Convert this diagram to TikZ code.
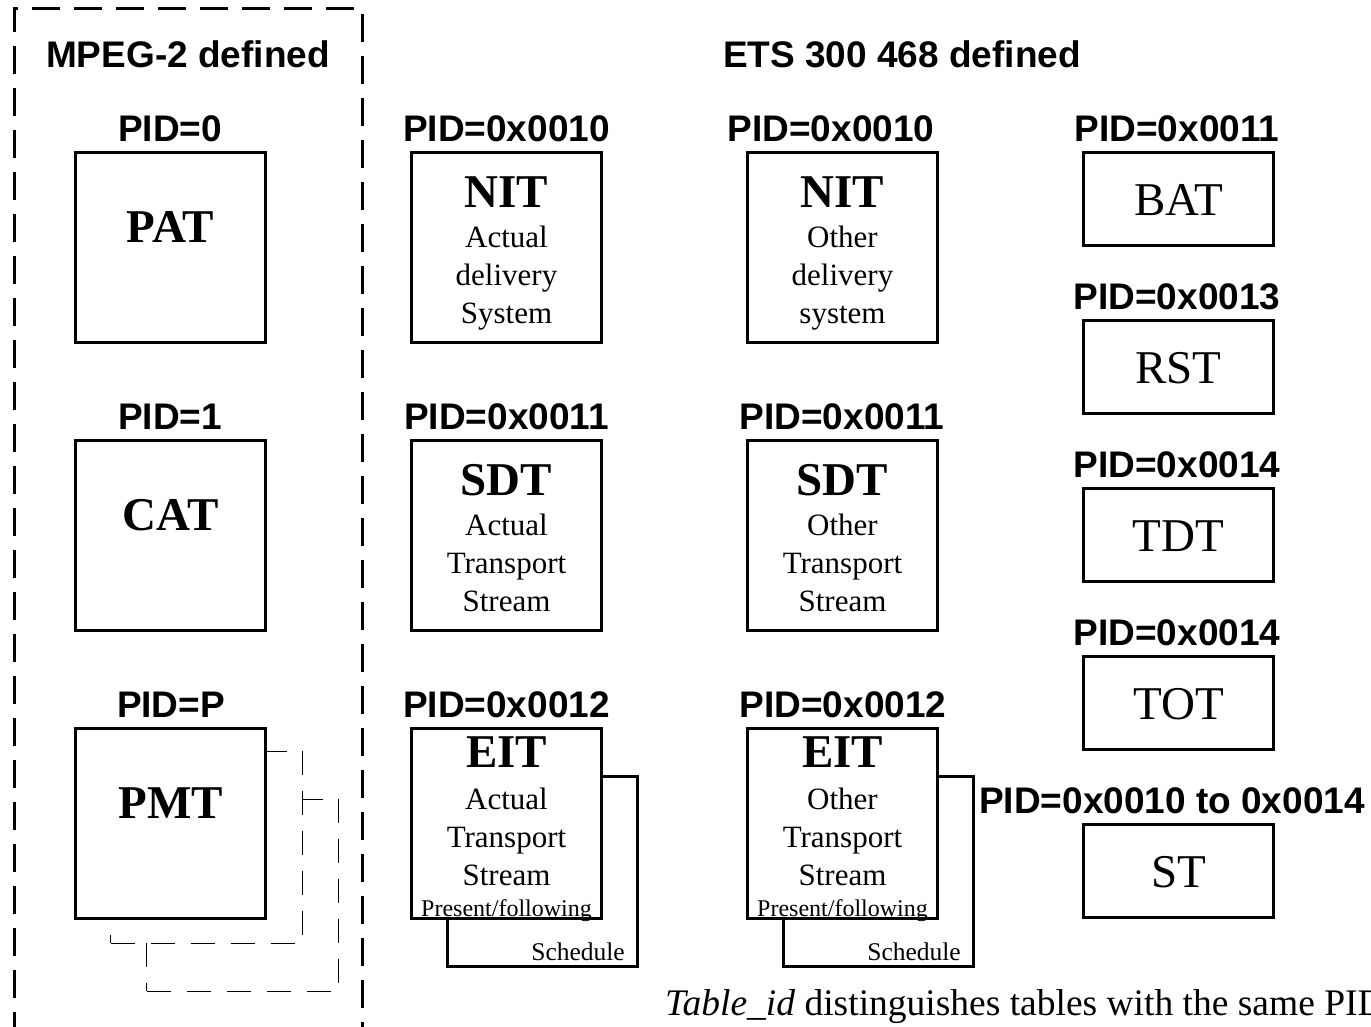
\documentclass[tikz,border=0pt]{standalone}
\usepackage{fontspec}
\setmainfont{Liberation Serif}
\setsansfont{Liberation Sans}
\begin{document}
\begin{tikzpicture}[x=1pt,y=-1pt,
  tbox/.style={draw,line width=3pt,fill=white,inner sep=0pt,minimum width=190pt,minimum height=190pt},
  sbox/.style={draw,line width=3pt,fill=white,inner sep=0pt,minimum width=190pt,minimum height=93pt},
  ghost/.style={draw,line width=1pt,dash pattern=on 24pt off 16pt,fill=white,inner sep=0pt,minimum width=192pt,minimum height=192pt},
  pid/.style={anchor=base,inner sep=0pt,font=\sffamily\bfseries\fontsize{37}{40}\selectfont},
  big/.style={anchor=base,inner sep=0pt,font=\bfseries\fontsize{47}{50}\selectfont},
  bigr/.style={anchor=base,inner sep=0pt,font=\fontsize{47}{50}\selectfont},
  mid/.style={anchor=base,inner sep=0pt,font=\fontsize{31}{34}\selectfont},
  small/.style={anchor=base,inner sep=0pt,font=\fontsize{24}{26}\selectfont},
  sched/.style={anchor=base east,inner sep=0pt,font=\fontsize{25.5}{27}\selectfont},
  outer/.style={line width=3pt,dash pattern=on 28pt off 14pt}]
\useasboundingbox (0,0) rectangle (1371,1026);
% outer dashed frame
\coordinate (fa) at (14,1040);
\coordinate (fb) at (14,8);
\coordinate (fc) at (362,8);
\coordinate (fd) at (362,1040);
\draw[outer] (fa) -- (fb) -- (fc) -- (fd);
% headings
\node[pid] (h1) at (188,67) {MPEG-2 defined};
\node[pid] (h2) at (902,67) {ETS 300 468 defined};
% MPEG column
\node[pid] (l1) at (170,141) {PID=0};
\node[tbox] (pat) at (170.5,247) {};
\node[big] (patt) at (170.5,242) {PAT};
\node[pid] (l2) at (170,429) {PID=1};
\node[tbox] (cat) at (170.5,535) {};
\node[big] (catt) at (170.5,530) {CAT};
\node[pid] (l3) at (171,717) {PID=P};
\node[ghost] (pmt2) at (242.5,895) {};
\node[ghost] (pmt1) at (206.5,847) {};
\node[tbox] (pmt) at (170.5,823) {};
\node[big] (pmtt) at (170.5,818) {PMT};
% Actual column
\node[pid] (l4) at (506.5,141) {PID=0x0010};
\node[tbox] (nita) at (506.5,247) {};
\node[big] (nitat) at (506.5,207) {NIT};
\node[mid] (nita1) at (506.5,247) {Actual};
\node[mid] (nita2) at (506.5,285) {delivery};
\node[mid] (nita3) at (506.5,323) {System};
\node[pid] (l5) at (506.5,429) {PID=0x0011};
\node[tbox] (sdta) at (506.5,535) {};
\node[big] (sdtat) at (506.5,495) {SDT};
\node[mid] (sdta1) at (506.5,535) {Actual};
\node[mid] (sdta2) at (506.5,573) {Transport};
\node[mid] (sdta3) at (506.5,611) {Stream};
\node[pid] (l6) at (506.5,717) {PID=0x0012};
\node[tbox] (eitab) at (542,871) {};
\node[sched] (eitas) at (625,960) {Schedule};
\node[tbox] (eita) at (506.5,823) {};
\node[big] (eitat) at (506.5,767) {EIT};
\node[mid] (eita1) at (506.5,809) {Actual};
\node[mid] (eita2) at (506.5,847) {Transport};
\node[mid] (eita3) at (506.5,885) {Stream};
\node[small] (eita4) at (506.5,916) {Present/following};
% Other column
\node[pid] (l7) at (831,141) {PID=0x0010};
\node[tbox] (nito) at (842.5,247) {};
\node[big] (nitot) at (842.5,207) {NIT};
\node[mid] (nito1) at (842.5,247) {Other};
\node[mid] (nito2) at (842.5,285) {delivery};
\node[mid] (nito3) at (842.5,323) {system};
\node[pid] (l8) at (842,429) {PID=0x0011};
\node[tbox] (sdto) at (842.5,535) {};
\node[big] (sdtot) at (842.5,495) {SDT};
\node[mid] (sdto1) at (842.5,535) {Other};
\node[mid] (sdto2) at (842.5,573) {Transport};
\node[mid] (sdto3) at (842.5,611) {Stream};
\node[pid] (l9) at (843,717) {PID=0x0012};
\node[tbox] (eitob) at (878.5,871) {};
\node[sched] (eitos) at (961,960) {Schedule};
\node[tbox] (eito) at (842.5,823) {};
\node[big] (eitot) at (842.5,767) {EIT};
\node[mid] (eito1) at (842.5,809) {Other};
\node[mid] (eito2) at (842.5,847) {Transport};
\node[mid] (eito3) at (842.5,885) {Stream};
\node[small] (eito4) at (842.5,916) {Present/following};
% Right column
\node[pid] (r1) at (1177,141) {PID=0x0011};
\node[sbox] (bat) at (1178.5,199) {};
\node[bigr] (batt) at (1178.5,215) {BAT};
\node[pid] (r2) at (1177,309) {PID=0x0013};
\node[sbox] (rst) at (1178.5,367) {};
\node[bigr] (rstt) at (1178.5,383) {RST};
\node[pid] (r3) at (1177,477) {PID=0x0014};
\node[sbox] (tdt) at (1178.5,535) {};
\node[bigr] (tdtt) at (1178.5,551) {TDT};
\node[pid] (r4) at (1177,645) {PID=0x0014};
\node[sbox] (tot) at (1178.5,703) {};
\node[bigr] (tott) at (1178.5,719) {TOT};
\node[pid] (r5) at (1172,813) {PID=0x0010 to 0x0014};
\node[sbox] (st) at (1178.5,871) {};
\node[bigr] (stt) at (1178.5,887) {ST};
% footnote
\node[anchor=base west,inner sep=0pt,font=\fontsize{37.5}{40}\selectfont] (foot) at (665,1015) {\textit{Table\_id} distinguishes tables with the same PID};
\end{tikzpicture}
\end{document}
